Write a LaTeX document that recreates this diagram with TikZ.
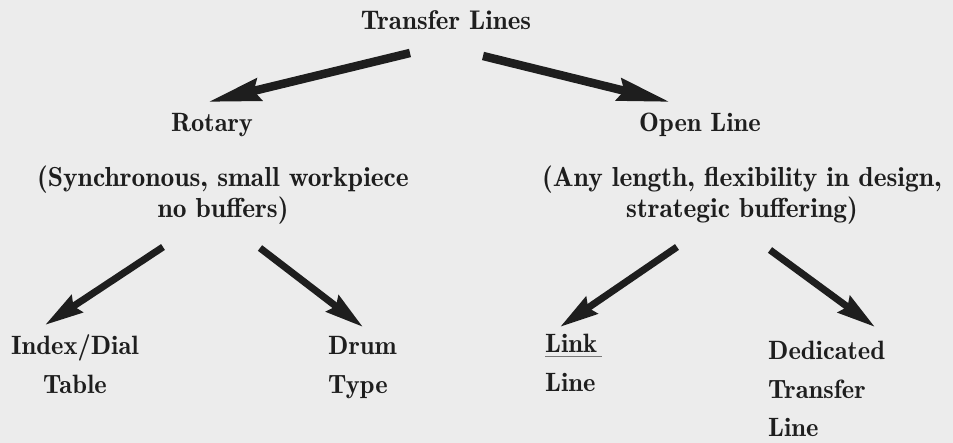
\documentclass[tikz,border=0pt]{standalone}
\usepackage{fontspec}
\newfontfamily\diagserif{lmromandemi10-regular.otf}
\usetikzlibrary{arrows.meta}
\definecolor{bg}{RGB}{236,236,236}
\definecolor{ink}{RGB}{30,30,30}
\definecolor{uline}{RGB}{120,120,120}
\newcommand{\stackL}[1]{\vtop{\halign{##\hfil\cr #1\crcr}}}
\newcommand{\stackC}[1]{\vtop{\halign{\hfil##\hfil\cr #1\crcr}}}
\tikzset{
  lbl/.style={inner sep=0pt, text=ink, font=\diagserif\fontsize{26.5}{38.5}\selectfont},
  desc/.style={inner sep=0pt, text=ink, font=\diagserif\fontsize{27.5}{31}\selectfont},
  bigarrow/.style={draw=ink, line width=8.5pt, -{Stealth[length=52pt,width=22pt,inset=5pt]}},
  smallarrow/.style={draw=ink, line width=7pt, -{Stealth[length=38pt,width=20pt,inset=4pt]}}
}
\begin{document}
\begin{tikzpicture}[x=1pt,y=-1pt]
\fill[bg] (0,0) rectangle (953,443);
\useasboundingbox (0,0) rectangle (953,443);

\node[lbl, anchor=base, font=\diagserif\fontsize{27}{33}\selectfont] (top) at (446,30) {Transfer Lines};
\node[lbl, anchor=base] (rot) at (212,132) {Rotary};
\node[lbl, anchor=base] (open) at (700,132) {Open Line};
\node[desc, anchor=base] (rotdesc) at (223,187) {\stackC{(Synchronous, small workpiece\cr no buffers)}};
\node[desc, anchor=base] (opendesc) at (742,187) {\stackC{(Any length, flexibility in design,\cr strategic buffering)}};

\node[lbl, anchor=base] (idx) at (75,355) {\stackC{Index/Dial\cr Table}};
\node[lbl, anchor=base west] (drum) at (328,355) {\stackL{Drum\cr Type}};
\node[lbl, anchor=base west] (link) at (545,353) {\stackL{Link\cr Line}};
\node[lbl, anchor=base west] (ded) at (768,360) {\stackL{Dedicated\cr Transfer\cr Line}};

\draw[uline, line width=1pt] ([shift={(0,4)}]link.base west) -- ([shift={(57,4)}]link.base west);

\draw[bigarrow] ([shift={(-36,23)}]top.base) -- ([shift={(-4,-30)}]rot.base);
\draw[bigarrow] ([shift={(37,26)}]top.base) -- ([shift={(-30,-30)}]open.base);

\draw[smallarrow] ([shift={(-60,60)}]rotdesc.base) -- ([shift={(-30,-30)}]idx.base);
\draw[smallarrow] ([shift={(37,61)}]rotdesc.base) -- ([shift={(35,-28)}]drum.base west);
\draw[smallarrow] ([shift={(-65,60)}]opendesc.base) -- ([shift={(15,-26)}]link.base west);
\draw[smallarrow] ([shift={(28,63)}]opendesc.base) -- ([shift={(107,-33)}]ded.base west);
\end{tikzpicture}
\end{document}
